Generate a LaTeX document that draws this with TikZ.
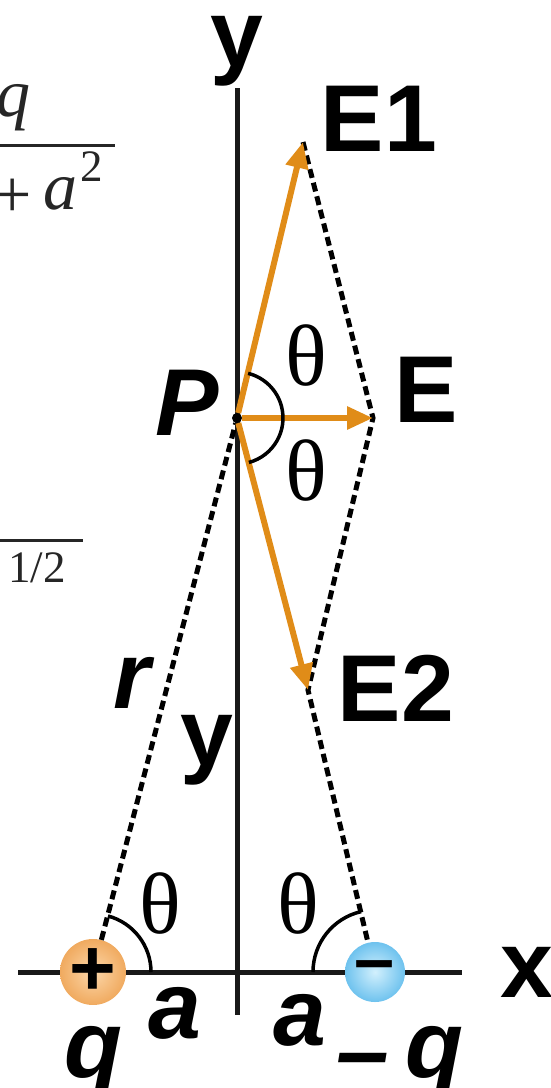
\documentclass[tikz,border=0pt]{standalone}
\usepackage{fontspec}
\setmainfont{Liberation Serif}
\setsansfont{Liberation Sans}
\usetikzlibrary{arrows.meta}

\definecolor{fieldorange}{RGB}{224,140,24}
\definecolor{posin}{RGB}{252,215,170}
\definecolor{posout}{RGB}{240,170,95}
\definecolor{negin}{RGB}{210,240,253}
\definecolor{negout}{RGB}{110,194,238}

\tikzset{
  axis/.style={line width=5pt, black!90},
  guide/.style={line width=5pt, dash pattern=on 9pt off 5pt},
  field/.style={line width=6pt, fieldorange, -{Triangle[length=26pt,width=22pt]}},
  angarc/.style={line width=3.5pt},
  lbl/.style={font=\sffamily\bfseries\fontsize{95}{95}\selectfont, inner sep=0pt},
  ilbl/.style={font=\sffamily\bfseries\itshape\fontsize{95}{95}\selectfont, inner sep=0pt},
  ang/.style={font=\fontsize{87}{87}\selectfont, inner sep=0pt},
  frag/.style={font=\fontsize{68}{68}\selectfont, text=black!85, inner sep=0pt},
  fragsup/.style={font=\fontsize{45}{45}\selectfont, text=black!85, inner sep=0pt},
  charge/.style={circle, minimum size=60pt, inner sep=0pt},
}

\begin{document}
\begin{tikzpicture}[x=1pt, y=1pt]
  \useasboundingbox (0,0) rectangle (550,-1088);
  \clip (0,0) rectangle (550,-1088);

  % axes
  \coordinate (ytop) at (237,-88);
  \coordinate (ybot) at (237,-1015);
  \coordinate (xleft) at (18,-972);
  \coordinate (xright) at (462,-972);
  \draw[axis] (ytop) -- (ybot);
  \draw[axis] (xleft) -- (xright);
  \node[lbl] (ylab) at (237,-51) {y};
  \node[lbl] (xlab) at (527,-972) {x};

  % point and charges
  \node[circle, fill=black, minimum size=10pt, inner sep=0pt] (P) at (237,-418) {};
  \node[charge, shading=radial, inner color=posin, outer color=posout] (qp) at (93,-972)
    {\sffamily\bfseries\fontsize{80}{80}\selectfont +};
  \node[charge, shading=radial, inner color=negin, outer color=negout] (qn) at (375,-972)
    {\sffamily\bfseries\fontsize{72}{72}\selectfont --};

  % field tips
  \coordinate (E1) at (303,-142);
  \coordinate (E) at (373,-418);
  \coordinate (E2) at (308,-690);

  % dashed guides
  \draw[guide] (qp) -- (P);
  \draw[guide] (E1) -- (E) -- (E2) -- (qn);

  % field vectors
  \draw[field] (P) -- (E1);
  \draw[field] (P) -- (E);
  \draw[field] (P) -- (E2);

  % angles
  \draw[angarc] (P.center) ++(-75:46) arc[start angle=-75, end angle=76, radius=46];
  \draw[angarc] (qp.center) ++(0:58) arc[start angle=0, end angle=75, radius=58];
  \draw[angarc] (qn.center) ++(103:62) arc[start angle=103, end angle=180, radius=62];
  \node[ang] (th1) at (306,-356) {θ};
  \node[ang] (th2) at (306,-470) {θ};
  \node[ang] (th3) at (160,-903) {θ};
  \node[ang] (th4) at (298,-903) {θ};

  % labels
  \node[lbl] (lE1) at (379,-119) {E1};
  \node[lbl] (lE) at (426,-390) {E};
  \node[lbl] (lE2) at (396,-688) {E2};
  \node[ilbl] (lP) at (187,-403) {P};
  \node[ilbl] (lr) at (132,-683) {r};
  \node[lbl] (ly) at (207,-750) {y};
  \node[ilbl] (la1) at (175,-1013) {a};
  \node[ilbl] (la2) at (300,-1020) {a};
  \node[ilbl] (lq1) at (94,-1062) {q};
  \node[ilbl] (lq2) at (400,-1062) {\raisebox{-6pt}{--}\,q};

  % formula pieces cut at the edge
  \node[frag] (fq) at (14,-108) {\itshape q};
  \draw[line width=3pt, black!85] (-10,-145) -- (115,-145);
  \node[frag] (fplus) at (13,-198) {+};
  \node[frag] (fa) at (60,-194) {\itshape a};
  \node[fragsup] (ftwo) at (92,-167) {2};
  \draw[line width=3pt, black!85] (-10,-540) -- (83,-540);
  \node[fragsup] (fhalf) at (37,-568) {1/2};
\end{tikzpicture}
\end{document}
